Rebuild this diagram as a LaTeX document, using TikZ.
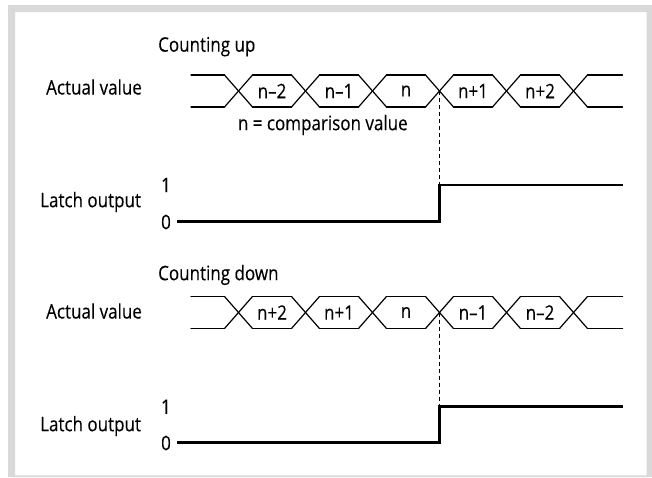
\documentclass[tikz,border=0pt]{standalone}
\usepackage{fontspec}
\setmainfont[FakeStretch=0.85,FakeBold=0.2]{Open Sans}
\definecolor{framegray}{RGB}{217,217,217}
\tikzset{
  lbl/.style={font=\fontsize{20}{23}\selectfont, inner sep=0pt},
  busline/.style={line width=1.2pt, line cap=round, line join=round},
  sigline/.style={line width=2.4pt, line join=miter},
  guide/.style={line width=0.8pt, dash pattern=on 4pt off 3pt},
}
\newcommand{\tdbus}[3]{%
  % #1 top y, #2 bottom y, #3 list crossing/label
  \draw[busline] (191,#1) -- (224.5,#1);
  \draw[busline] (191,#2) -- (224.5,#2);
  \draw[busline] (587.5,#1) -- (622.5,#1);
  \draw[busline] (587.5,#2) -- (622.5,#2);
  \foreach \c in {238.5,305.5,372.5,439.5,506.5,573.5}{
    \draw[busline] (\c-14,#1) -- (\c+14,#2);
    \draw[busline] (\c-14,#2) -- (\c+14,#1);
  }
  \foreach \c/\t in {#3}{
    \draw[busline] (\c+14,#1) -- (\c+53,#1);
    \draw[busline] (\c+14,#2) -- (\c+53,#2);
    \node[lbl] at (\c+33.5,{(#1+#2)/2}) {\t};
  }
}
\begin{document}
\begin{tikzpicture}[x=1pt,y=-1pt]
\useasboundingbox (0,0) rectangle (652,477);
\fill[framegray, even odd rule] (8,5) rectangle (652,477) (15,12) rectangle (646.7,475.3);

% ---------- Counting up ----------
\node[lbl, anchor=west] (cu) at (158,46.7) {Counting up};
\node[lbl, anchor=west] (av1) at (46,87) {Actual value};
\tdbus{75}{107}{238.5/n\textendash2, 305.5/n\textendash1, 372.5/n, 439.5/n+1, 506.5/n+2}
\node[lbl] (cmp) at (322.8,125) {n = comparison value};
\node[lbl, anchor=west] (lo1) at (40,202) {Latch output};
\node[lbl] (one1) at (166,185) {1};
\node[lbl] (zero1) at (166,222) {0};
\coordinate (x1) at (439.5,91);
\coordinate (s1lo) at (439.5,221.5);
\coordinate (s1hi) at (439.5,185);
\draw[sigline] (177,221.5) -- (s1lo) -- (s1hi) -- (622.5,185);
\draw[guide] (x1) -- (s1hi);

% ---------- Counting down ----------
\node[lbl, anchor=west] (cd) at (158,275) {Counting down};
\node[lbl, anchor=west] (av2) at (46,311) {Actual value};
\tdbus{296.5}{328.5}{238.5/n+2, 305.5/n+1, 372.5/n, 439.5/n\textendash1, 506.5/n\textendash2}
\node[lbl, anchor=west] (lo2) at (40,426) {Latch output};
\node[lbl] (one2) at (166,406.7) {1};
\node[lbl] (zero2) at (166,443) {0};
\coordinate (x2) at (439.5,312.5);
\coordinate (s2lo) at (439.5,442.5);
\coordinate (s2hi) at (439.5,406.5);
\draw[sigline] (177,442.5) -- (s2lo) -- (s2hi) -- (622.5,406.5);
\draw[guide] (x2) -- (s2hi);
\end{tikzpicture}
\end{document}
